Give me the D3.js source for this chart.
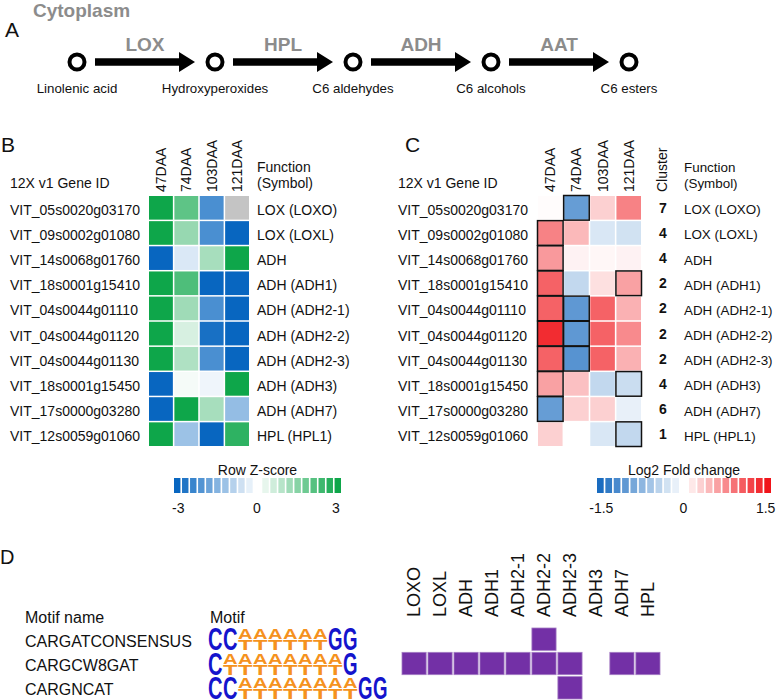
<!DOCTYPE html>
<html><head><meta charset="utf-8">
<script src="https://cdn.jsdelivr.net/npm/d3@7"></script>
<style>body{margin:0;background:#fff} text{font-family:"Liberation Sans",Arial,Helvetica,sans-serif;fill:#111}</style>
</head><body><svg id="c" width="776" height="700"></svg>
<script>
// ---------------- DATA ----------------
const pathwayNodes = ["Linolenic acid","Hydroxyperoxides","C6 aldehydes","C6 alcohols","C6 esters"];
const pathwayEnzymes = ["LOX","HPL","ADH","AAT"];
const geneIds = ["VIT_05s0020g03170","VIT_09s0002g01080","VIT_14s0068g01760","VIT_18s0001g15410","VIT_04s0044g01110","VIT_04s0044g01120","VIT_04s0044g01130","VIT_18s0001g15450","VIT_17s0000g03280","VIT_12s0059g01060"];
const geneFunctions = ["LOX (LOXO)","LOX (LOXL)","ADH","ADH (ADH1)","ADH (ADH2-1)","ADH (ADH2-2)","ADH (ADH2-3)","ADH (ADH3)","ADH (ADH7)","HPL (HPL1)"];
const timepoints = ["47DAA","74DAA","103DAA","121DAA"];
const zScores = [
  [3.0, 2.0, -2.2, null],
  [3.0, 1.3, -2.2, -3.0],
  [-3.0, -0.45, 1.1, 3.0],
  [3.0, 2.2, -3.0, -3.0],
  [3.0, 1.2, -2.2, -3.0],
  [3.0, 0.5, -2.8, -3.0],
  [3.0, 1.0, -2.2, -3.0],
  [-3.0, 0.12, -0.2, 3.0],
  [-3.0, 3.0, 1.1, -1.3],
  [3.0, -1.2, -3.0, 2.6]
];
const log2FC = [
  [0.02, -1.0, 0.3, 0.8],
  [0.8, 0.45, -0.25, -0.3],
  [0.65, 0.08, 0.05, 0.08],
  [1.0, -0.4, 0.2, 0.6],
  [1.0, -1.05, 1.0, 0.5],
  [1.35, -1.05, 1.0, 0.75],
  [1.0, -1.1, 1.0, 0.5],
  [0.6, 0.4, -0.4, -0.35],
  [-1.0, 0.3, 0.3, -0.15],
  [0.3, 0.0, -0.25, -0.4]
];
const significant = [
  [0,1,0,0],[1,0,0,0],[1,0,0,0],[1,0,0,1],[1,1,0,0],
  [1,1,0,0],[1,1,0,0],[1,0,0,1],[1,0,0,0],[0,0,0,1]
];
const clusters = [7,4,4,2,2,2,2,4,6,1];
const zTicks = [-3,0,3];
const fcTicks = [-1.5,0,1.5];
const motifNames = ["CARGATCONSENSUS","CARGCW8GAT","CARGNCAT"];
const motifSeqs = ["CCWWWWWWGG","CWWWWWWWWG","CCWWWWWWWWGG"];
const symbols = ["LOXO","LOXL","ADH","ADH1","ADH2-1","ADH2-2","ADH2-3","ADH3","ADH7","HPL"];
const motifPresence = [
  [0,0,0,0,0,1,0,0,0,0],
  [1,1,1,1,1,1,1,0,1,1],
  [0,0,0,0,0,0,1,0,0,0]
];

// ---------------- DRAW ----------------
const svg = d3.select("#c");
const gray = "#8c8c8c";

// Panel A
svg.append("text").attr("x",33).attr("y",17).attr("font-size",19).attr("font-weight","bold").style("fill",gray).text("Cytoplasm");
svg.append("text").attr("x",5).attr("y",37).attr("font-size",21).text("A");
const px = d3.scalePoint().domain(pathwayNodes).range([77,629]);
const py = 62;
const gA = svg.append("g");
gA.selectAll("circle").data(pathwayNodes).join("circle")
  .attr("cx",d=>px(d)).attr("cy",py).attr("r",7.5)
  .attr("fill","#fff").attr("stroke","#000").attr("stroke-width",4);
gA.selectAll("text.node").data(pathwayNodes).join("text").attr("class","node")
  .attr("x",d=>px(d)).attr("y",93).attr("text-anchor","middle").attr("font-size",13.3).text(d=>d);
pathwayEnzymes.forEach((e,i)=>{
  const x0 = px(pathwayNodes[i]) + 18, x1 = px(pathwayNodes[i+1]) - 20;
  const hl = 16, st = 3.8, hh = 10;
  const p = d3.path();
  p.moveTo(x0, py-st); p.lineTo(x1-hl, py-st); p.lineTo(x1-hl, py-hh); p.lineTo(x1, py);
  p.lineTo(x1-hl, py+hh); p.lineTo(x1-hl, py+st); p.lineTo(x0, py+st); p.closePath();
  gA.append("path").attr("d",p.toString()).attr("fill","#000");
  gA.append("text").attr("x",(x0+x1)/2).attr("y",51).attr("text-anchor","middle")
    .attr("font-size",19).attr("font-weight","bold").style("fill",gray).text(e);
});

// Heatmap helper
const yRow = d3.scaleBand().domain(geneIds).range([196,446]).paddingInner(0.06);
function heatmap(opts){
  const g = svg.append("g");
  const x = d3.scaleBand().domain(timepoints).range(opts.xr).paddingInner(0.06);
  g.append("text").attr("x",opts.labelX).attr("y",152).attr("font-size",21).text(opts.letter);
  g.append("text").attr("x",opts.idX).attr("y",188).attr("font-size",14).text("12X v1 Gene ID");
  g.append("text").attr("x",opts.funcX).attr("y",172).attr("font-size",opts.funcFs).text("Function");
  g.append("text").attr("x",opts.funcX).attr("y",188).attr("font-size",opts.funcFs).text("(Symbol)");
  g.selectAll("text.col").data(timepoints).join("text").attr("class","col")
    .attr("transform",d=>`translate(${x(d)+x.bandwidth()/2+5},192) rotate(-90)`)
    .attr("font-size",14).text(d=>d);
  g.selectAll("text.gid").data(geneIds).join("text").attr("class","gid")
    .attr("x",opts.idX).attr("y",d=>yRow(d)+yRow.bandwidth()/2+2).attr("dominant-baseline","central")
    .attr("font-size",14).text(d=>d);
  g.selectAll("text.fn").data(geneFunctions).join("text").attr("class","fn")
    .attr("x",opts.funcX).attr("y",(d,i)=>yRow(geneIds[i])+yRow.bandwidth()/2+2).attr("dominant-baseline","central")
    .attr("font-size",opts.funcFs).text(d=>d);
  const cells = [];
  opts.values.forEach((row,i)=>row.forEach((v,j)=>cells.push({g:geneIds[i],t:timepoints[j],v,i,j})));
  g.selectAll("rect.cell").data(cells).join("rect").attr("class","cell")
    .attr("x",d=>x(d.t)).attr("y",d=>yRow(d.g)).attr("width",x.bandwidth()).attr("height",yRow.bandwidth())
    .attr("fill",d=>d.v==null?"#c4c4c4":opts.color(d.v));
  if(opts.sig){
    g.selectAll("rect.sig").data(cells.filter(d=>opts.sig[d.i][d.j])).join("rect").attr("class","sig")
      .attr("x",d=>x(d.t)-0.5).attr("y",d=>yRow(d.g)-0.5).attr("width",x.bandwidth()+1).attr("height",yRow.bandwidth()+1)
      .attr("fill","none").attr("stroke","#111").attr("stroke-width",1.5);
  }
  // legend
  const n = 21;
  const vals = d3.range(n).map(k=>opts.dom[0]+(opts.dom[1]-opts.dom[0])*k/(n-1));
  const lx = d3.scaleBand().domain(d3.range(n)).range(opts.lr).paddingInner(0.2);
  g.append("text").attr("x",(opts.lr[0]+opts.lr[1])/2).attr("y",470).attr("text-anchor","middle")
    .attr("dominant-baseline","central").attr("font-size",14).text(opts.title);
  g.selectAll("rect.leg").data(vals).join("rect").attr("class","leg")
    .attr("x",(d,k)=>lx(k)).attr("y",478).attr("width",lx.bandwidth()).attr("height",15).attr("fill",d=>opts.color(d));
  const tx = d3.scaleLinear().domain(opts.dom).range([lx(0)+lx.bandwidth()/2+1, lx(n-1)+lx.bandwidth()/2-2]);
  g.selectAll("text.tick").data(opts.ticks).join("text").attr("class","tick")
    .attr("x",d=>tx(d)).attr("y",508).attr("text-anchor","middle").attr("dominant-baseline","central")
    .attr("font-size",14).text(d=>d);
  return {g,x};
}

const zColor = d3.scaleLinear().domain([-3,0,3]).range(["#0866c0","#ffffff","#0ea64a"]).clamp(true);
const fcColor = d3.scaleLinear().domain([-1.5,0,1.5]).range(["#1a6cc0","#ffffff","#f0141a"]).clamp(true);

heatmap({letter:"B",labelX:1,idX:10,funcX:257,funcFs:14,xr:[149,249],values:zScores,color:zColor,
  title:"Row Z-score",dom:[-3,3],ticks:zTicks,lr:[174,341]});
const C = heatmap({letter:"C",labelX:405,idX:398,funcX:684,funcFs:13.4,xr:[538,641],values:log2FC,color:fcColor,sig:significant,
  title:"Log2 Fold change",dom:[-1.5,1.5],ticks:fcTicks,lr:[597,771]});
C.g.append("text").attr("transform","translate(667,192) rotate(-90)").attr("font-size",14).text("Cluster");
C.g.selectAll("text.cl").data(clusters).join("text").attr("class","cl")
  .attr("x",663).attr("y",(d,i)=>yRow(geneIds[i])+yRow.bandwidth()/2).attr("text-anchor","middle")
  .attr("dominant-baseline","central").attr("font-size",14).attr("font-weight","bold").text(d=>d);

// Panel D
const gD = svg.append("g");
gD.append("text").attr("x",0).attr("y",564).attr("font-size",20).text("D");
gD.append("text").attr("x",25).attr("y",617).attr("dominant-baseline","central").attr("font-size",16).text("Motif name");
gD.append("text").attr("x",210).attr("y",617).attr("dominant-baseline","central").attr("font-size",16).text("Motif");
const yM = d3.scaleBand().domain(motifNames).range([628,699]).paddingInner(0.08);
gD.selectAll("text.mn").data(motifNames).join("text").attr("class","mn")
  .attr("x",25).attr("y",d=>yM(d)+yM.bandwidth()/2+2).attr("dominant-baseline","central").attr("font-size",16).text(d=>d);
const maxLen = d3.max(motifSeqs,s=>s.length);
const xL = d3.scaleBand().domain(d3.range(maxLen)).range([208,388]);
function letter(ch,x,yTop,w,h,color){
  const fs = 20, cap = 0.72*fs;
  gD.append("text").attr("transform",`translate(${x},${yTop+h}) scale(1,${h/cap})`)
    .attr("font-size",fs).attr("font-weight","bold").attr("textLength",w).attr("lengthAdjust","spacingAndGlyphs")
    .style("fill",color).text(ch);
}
motifSeqs.forEach((s,r)=>{
  const top = yM(motifNames[r]), h = yM.bandwidth();
  s.split("").forEach((c,k)=>{
    const x = xL(k), w = xL.bandwidth()-0.5;
    if(c==="W"){ letter("A",x,top,w,h/2,"#f5921e"); letter("T",x,top+h/2,w,h/2,"#f5921e"); }
    else letter(c,x,top,w,h,"#1414cc");
  });
});
const xS = d3.scaleBand().domain(symbols).range([402,660]).paddingInner(0.07);
gD.selectAll("text.sym").data(symbols).join("text").attr("class","sym")
  .attr("transform",d=>`translate(${xS(d)+xS.bandwidth()/2+6},617) rotate(-90)`).attr("font-size",18).text(d=>d);
const pres = [];
motifPresence.forEach((row,r)=>row.forEach((v,k)=>{ if(v) pres.push({m:motifNames[r],s:symbols[k]}); }));
gD.selectAll("rect.pr").data(pres).join("rect").attr("class","pr")
  .attr("x",d=>xS(d.s)).attr("y",d=>yM(d.m)).attr("width",xS.bandwidth()).attr("height",yM.bandwidth())
  .attr("fill","#7330a6").attr("stroke","#a47cc4").attr("stroke-width",0.8);
</script></body></html>
